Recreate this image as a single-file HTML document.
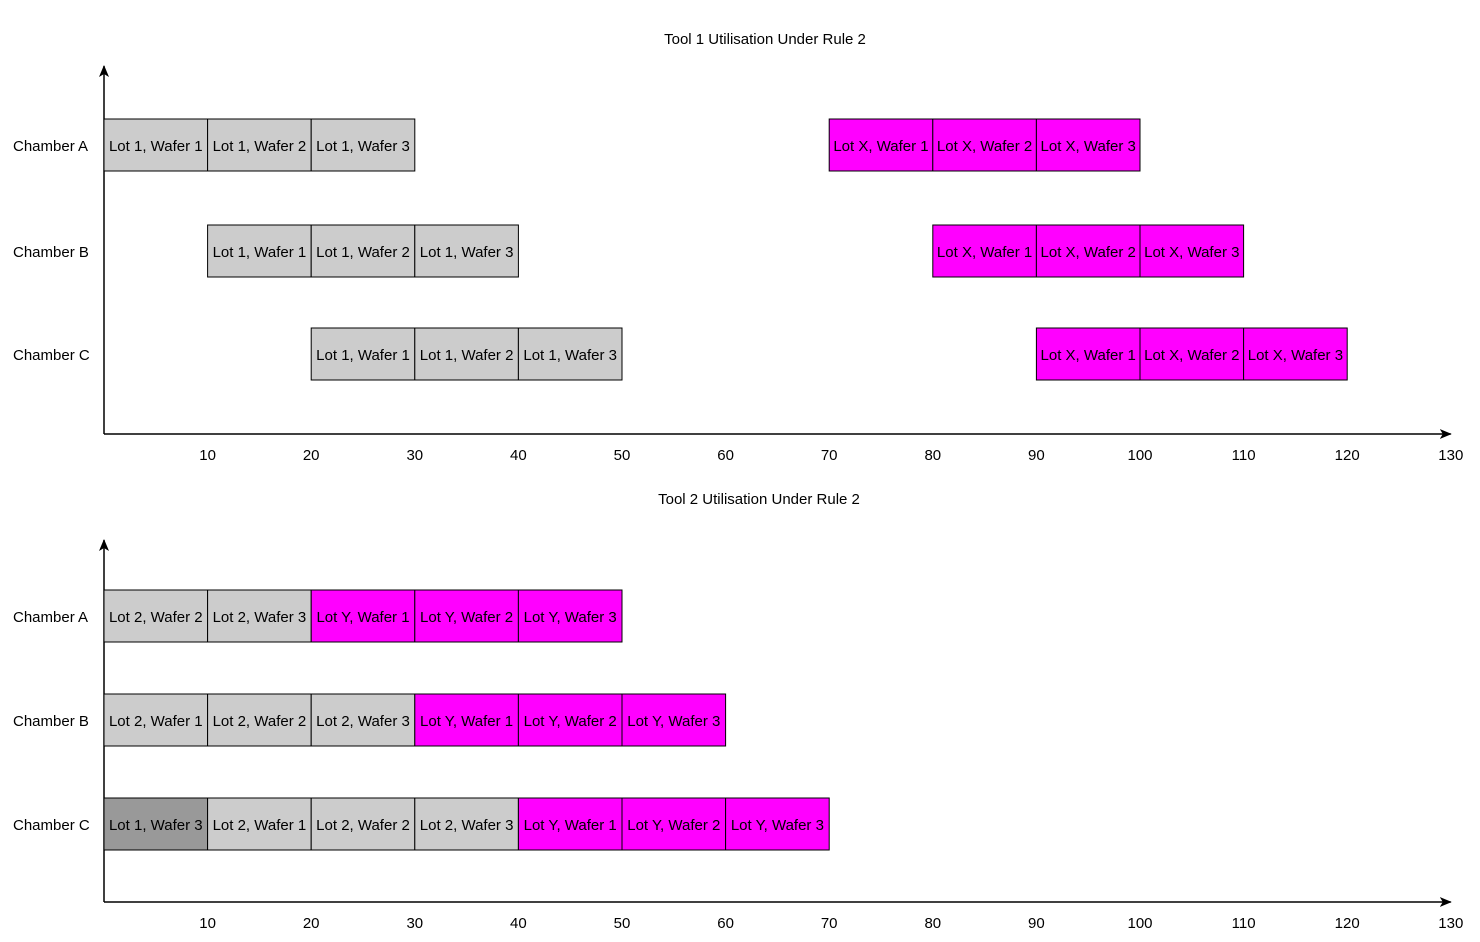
<!DOCTYPE html>
<html><head><meta charset="utf-8"><style>
html,body{margin:0;padding:0;background:#fff;}
svg{display:block;font-family:"Liberation Sans",Arial,sans-serif;}
</style></head><body>
<svg id="chart" width="1480" height="942" viewBox="0 0 1480 942">
<defs><marker id="arr" markerWidth="12" markerHeight="10" refX="11" refY="5" orient="auto" markerUnits="userSpaceOnUse"><path d="M0,0 L12,5 L0,10 L3,5 Z" fill="#000"/></marker></defs>
</svg>
<script>
const rowNames=["Chamber A","Chamber B","Chamber C"];
const tickValues=[10,20,30,40,50,60,70,80,90,100,110,120,130];
const tool1Rows=[0,0,0,0,0,0,1,1,1,1,1,1,2,2,2,2,2,2];
const tool1Starts=[0,10,20,70,80,90,10,20,30,80,90,100,20,30,40,90,100,110];
const tool1Labels=["Lot 1, Wafer 1","Lot 1, Wafer 2","Lot 1, Wafer 3","Lot X, Wafer 1","Lot X, Wafer 2","Lot X, Wafer 3","Lot 1, Wafer 1","Lot 1, Wafer 2","Lot 1, Wafer 3","Lot X, Wafer 1","Lot X, Wafer 2","Lot X, Wafer 3","Lot 1, Wafer 1","Lot 1, Wafer 2","Lot 1, Wafer 3","Lot X, Wafer 1","Lot X, Wafer 2","Lot X, Wafer 3"];
const tool1Kinds=["g","g","g","m","m","m","g","g","g","m","m","m","g","g","g","m","m","m"];
const tool2Rows=[0,0,0,0,0,1,1,1,1,1,1,2,2,2,2,2,2,2];
const tool2Starts=[0,10,20,30,40,0,10,20,30,40,50,0,10,20,30,40,50,60];
const tool2Labels=["Lot 2, Wafer 2","Lot 2, Wafer 3","Lot Y, Wafer 1","Lot Y, Wafer 2","Lot Y, Wafer 3","Lot 2, Wafer 1","Lot 2, Wafer 2","Lot 2, Wafer 3","Lot Y, Wafer 1","Lot Y, Wafer 2","Lot Y, Wafer 3","Lot 1, Wafer 3","Lot 2, Wafer 1","Lot 2, Wafer 2","Lot 2, Wafer 3","Lot Y, Wafer 1","Lot Y, Wafer 2","Lot Y, Wafer 3"];
const tool2Kinds=["g","g","m","m","m","g","g","g","m","m","m","d","g","g","g","m","m","m"];
const duration=10;

const NS="http://www.w3.org/2000/svg";
const svg=document.getElementById("chart");
const colors={g:"#cccccc",m:"#ff00ff",d:"#999999"};
function xs(v){return 104+v*10.36;}
function mk(tag,attrs,text){const e=document.createElementNS(NS,tag);for(const k in attrs)e.setAttribute(k,attrs[k]);if(text!==undefined)e.textContent=text;svg.appendChild(e);return e;}

function panel(id,title,titleX,titleY,axisY,topY,rowY,rows,starts,labels,kinds){
  const t=mk("text",{x:titleX,y:titleY,"font-size":15,"text-anchor":"middle"},title);
  
  
  const ya=mk("line",{x1:104,y1:axisY,x2:104,y2:topY,stroke:"#000","stroke-width":1.5,"marker-end":"url(#arr)"});
  
  
  const xa=mk("line",{x1:104,y1:axisY,x2:xs(130),y2:axisY,stroke:"#000","stroke-width":1.5,"marker-end":"url(#arr)"});
  
  
  rowNames.forEach((n,i)=>{
    const l=mk("text",{x:13,y:rowY[i]+6,"font-size":15},n);
    
    
  });
  tickValues.forEach(v=>{
    const l=mk("text",{x:xs(v),y:axisY+26,"font-size":15,"text-anchor":"middle"},String(v));
    
    
  });
  starts.forEach((s,i)=>{
    const x0=xs(s),x1=xs(s+duration),yc=rowY[rows[i]];
    const r=mk("rect",{x:x0,y:yc-26,width:x1-x0,height:52,fill:colors[kinds[i]],stroke:"#000","stroke-width":1});
    
    
    const tx=mk("text",{x:(x0+x1)/2,y:yc+6,"font-size":15,"text-anchor":"middle"},labels[i]);
    
    
  });
}
panel("tool1","Tool 1 Utilisation Under Rule 2",765,44,434,66,[145,251,354],tool1Rows,tool1Starts,tool1Labels,tool1Kinds);
panel("tool2","Tool 2 Utilisation Under Rule 2",759,504,902,540,[616,720,824],tool2Rows,tool2Starts,tool2Labels,tool2Kinds);
</script>
</body></html>
